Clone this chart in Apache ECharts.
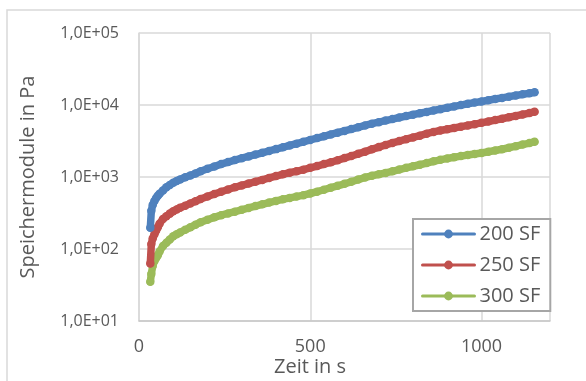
<!DOCTYPE html>
<html><head><meta charset="utf-8">
<script src="https://cdn.jsdelivr.net/npm/echarts@6/dist/echarts.min.js"></script>
<style>html,body{margin:0;padding:0;background:#fff}#c{width:586px;height:381px}</style>
</head><body><div id="c"></div>
<script>
const seriesNames = ['200 SF', '250 SF', '300 SF'];
const timeS = [33,36,40,45,50,55,60,70,80,90,100,110,120,135,150,165,180,
  200,220,240,260,280,300,320,340,360,380,400,420,440,460,480,500,520,540,560,580,600,
  620,640,660,680,700,720,740,760,780,800,820,840,860,880,900,920,940,960,980,1000,
  1020,1040,1060,1080,1100,1120,1140,1155];
const sf200 = [198,340,410,465,510,550,585,650,720,775,835,880,925,990,1050,1120,1200,
  1300,1400,1510,1610,1720,1823,1932,2048,2171,2301,2439,2585,2740,2905,3079,3270,3470,3680,3900,4130,4370,
  4630,4900,5200,5500,5780,6070,6380,6700,7020,7350,7680,8020,8380,8750,9150,9550,9980,10400,10800,11200,
  11650,12100,12550,13050,13550,14050,14550,15000];
const sf250 = [63,117,140,160,180,200,225,262,285,310,335,355,375,400,430,460,495,
  535,580,625,670,720,765,810,860,910,970,1030,1090,1150,1200,1265,1340,1420,1510,1600,1710,1830,
  1960,2100,2250,2420,2600,2780,2970,3160,3350,3550,3750,4000,4230,4420,4600,4800,5000,5200,5420,5650,
  5900,6170,6450,6750,7060,7380,7730,8070];
const sf300 = [35,45,58,68,75,82,92,110,122,135,150,160,170,185,200,218,235,
  255,275,295,312,330,350,372,395,418,442,466,490,512,535,560,590,625,665,710,755,805,
  860,920,985,1040,1090,1140,1200,1270,1340,1410,1480,1560,1650,1730,1810,1880,1950,2020,2090,2160,
  2240,2330,2430,2550,2680,2820,2960,3090];
const yTickLabels = ['1,0E+01','1,0E+02','1,0E+03','1,0E+04','1,0E+05'];
const xTickLabels = ['0','500','1000'];
const colors = ['#4f81bd', '#c0504d', '#9bbb59'];
const FONT = '"Open Sans"';

const chart = echarts.init(document.getElementById('c'), null, {renderer: 'canvas'});
const all = [sf200, sf250, sf300];
chart.setOption({
  animation: false,
  textStyle: {fontFamily: FONT},
  grid: {left: 139, top: 33, right: 36, bottom: 60, containLabel: false},
  xAxis: {
    type: 'value', min: 0, max: 1200, interval: 500,
    axisLine: {show: true, lineStyle: {color: '#c8c8c8', width: 1.5}},
    axisTick: {show: false},
    axisLabel: {color: '#595959', fontSize: 18, fontFamily: FONT, margin: 17, showMaxLabel: false,
      formatter: v => { const i = [0,500,1000].indexOf(v); return i >= 0 ? xTickLabels[i] : ''; }},
    splitLine: {show: true, lineStyle: {color: '#d9d9d9', width: 1.5}}
  },
  yAxis: {
    type: 'log', logBase: 10, min: 10, max: 100000,
    axisLine: {show: true, lineStyle: {color: '#d9d9d9', width: 1.5}},
    axisTick: {show: false},
    axisLabel: {color: '#595959', fontSize: 16, fontFamily: FONT, margin: 20,
      formatter: v => yTickLabels[Math.round(Math.log10(v)) - 1]},
    splitLine: {show: true, lineStyle: {color: '#d9d9d9', width: 1.5}}
  },
  legend: {
    orient: 'vertical', left: 413, top: 219,
    backgroundColor: '#fff', borderColor: '#a6a6a6', borderWidth: 2,
    padding: [5, 10, 5, 8], itemWidth: 52, itemHeight: 11, itemGap: 11,
    lineStyle: {width: 3},
    textStyle: {color: '#595959', fontSize: 20, lineHeight: 20, fontFamily: FONT},
    data: seriesNames
  },
  graphic: [
    {type: 'rect', shape: {x: 7, y: 10, width: 700, height: 500}, style: {fill: 'none', stroke: '#d9d9d9', lineWidth: 1.5}, z: -1},
    {type: 'text', x: 28, y: 177, rotation: Math.PI / 2, style: {text: 'Speichermodule in Pa', fill: '#595959', font: '20px ' + FONT, align: 'center', verticalAlign: 'middle'}},
    {type: 'text', x: 310, y: 367, style: {text: 'Zeit in s', fill: '#595959', font: '20px ' + FONT, align: 'center', verticalAlign: 'middle'}}
  ],
  series: all.map((arr, k) => ({
    name: seriesNames[k], type: 'line',
    data: timeS.map((t, i) => [t, arr[i]]),
    symbol: 'circle', symbolSize: 8.5, showSymbol: true,
    itemStyle: {color: colors[k]},
    lineStyle: {color: colors[k], width: 7.5, cap: 'round', join: 'round'},
    z: 3 - k
  }))
});
</script></body></html>
